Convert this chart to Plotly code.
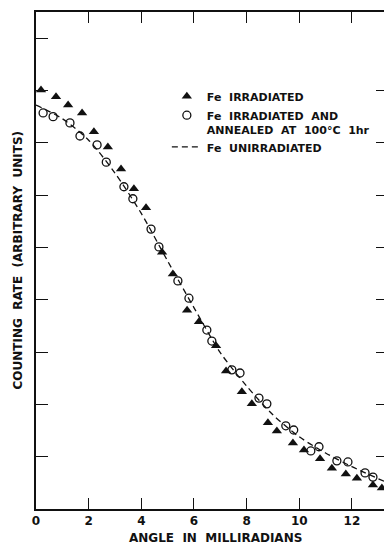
import plotly.graph_objects as go

# Fe irradiated (filled triangles)
irr_angle = [0.19, 0.76, 1.22, 1.75, 2.20, 2.73, 3.23, 3.72, 4.18, 4.79, 5.20, 5.74,
             6.19, 6.84, 7.22, 7.82, 8.20, 8.81, 9.15, 9.76, 10.18, 10.79, 11.24,
             11.77, 12.19, 12.80, 13.14]
irr_rate = [8.01, 7.88, 7.72, 7.57, 7.21, 6.92, 6.50, 6.12, 5.76, 4.91, 4.49, 3.80,
            3.58, 3.12, 2.64, 2.24, 2.01, 1.65, 1.49, 1.26, 1.13, 0.96, 0.78,
            0.67, 0.59, 0.46, 0.40]

# Fe irradiated and annealed at 100 C for 1 hr (open circles)
ann_angle = [0.27, 0.65, 1.29, 1.67, 2.32, 2.67, 3.34, 3.68, 4.37, 4.67, 5.39, 5.81,
             6.49, 6.68, 7.44, 7.75, 8.47, 8.77, 9.49, 9.79, 10.44, 10.75, 11.43,
             11.85, 12.50, 12.80]
ann_rate = [7.57, 7.50, 7.38, 7.13, 6.96, 6.63, 6.16, 5.93, 5.35, 5.01, 4.36, 4.03,
            3.42, 3.21, 2.66, 2.60, 2.12, 2.01, 1.59, 1.51, 1.11, 1.19, 0.92,
            0.90, 0.69, 0.61]

# Fe unirradiated (dashed reference curve)
unirr_angle = [0, 1, 2, 3, 4, 5, 6, 7, 8, 9, 10, 11, 12, 13.22]
unirr_rate = [7.72, 7.46, 7.05, 6.42, 5.65, 4.74, 3.85, 2.99, 2.35, 1.80, 1.38, 1.07, 0.81, 0.53]

x_ticks = [0, 2, 4, 6, 8, 10, 12]
y_ticks_left = [1, 2, 3, 4, 5, 6, 7, 8, 9]
y_ticks_right = [1, 2, 3, 4, 5, 6, 7, 8]

FONT = "DejaVu Sans"
INK = "#111111"

fig = go.Figure()

fig.add_trace(go.Scatter(
    x=irr_angle, y=irr_rate, mode="markers", name="Fe  IRRADIATED",
    marker=dict(symbol="triangle-up", size=9, color=INK, line=dict(width=0)),
))
fig.add_trace(go.Scatter(
    x=ann_angle, y=ann_rate, mode="markers",
    name="Fe  IRRADIATED  AND<br>ANNEALED  AT  100°C  1hr",
    marker=dict(symbol="circle-open", size=8, color=INK, line=dict(width=1.3, color=INK)),
))
fig.add_trace(go.Scatter(
    x=unirr_angle, y=unirr_rate, mode="lines", name="Fe  UNIRRADIATED",
    line=dict(color=INK, width=1.3, dash="6px,4px", shape="spline", smoothing=0.8),
))
# carrier for the right-hand tick axis
fig.add_trace(go.Scatter(x=[None], y=[None], yaxis="y2", showlegend=False, hoverinfo="skip"))

fig.update_layout(
    width=384, height=545,
    margin=dict(l=36, r=0, t=12, b=36),
    paper_bgcolor="white", plot_bgcolor="white",
    font=dict(family=FONT, size=11, color=INK),
    showlegend=True,
    legend=dict(
        x=0.376, y=0.858, xanchor="left", yanchor="top",
        bgcolor="rgba(0,0,0,0)", borderwidth=0,
        font=dict(family=FONT, size=11, color=INK, weight="bold"),
        valign="top", itemwidth=30,
    ),
    xaxis=dict(
        range=[0, 13.22], tickvals=x_ticks, ticktext=[str(v) for v in x_ticks],
        ticks="inside", ticklen=11, tickwidth=1.3, tickcolor=INK,
        showline=True, linecolor=INK, linewidth=1.5, mirror="ticks",
        showgrid=False, zeroline=False,
        tickfont=dict(family=FONT, size=12, color=INK, weight="bold"),
    ),
    yaxis=dict(
        range=[0, 9.5], tickvals=y_ticks_left, showticklabels=False,
        ticks="inside", ticklen=12, tickwidth=1.3, tickcolor=INK,
        showline=True, linecolor=INK, linewidth=1.5, mirror=False,
        showgrid=False, zeroline=False,
    ),
    yaxis2=dict(
        range=[0, 9.5], overlaying="y", side="right", anchor="x",
        tickvals=y_ticks_right, showticklabels=False,
        ticks="inside", ticklen=8, tickwidth=1.3, tickcolor=INK,
        showline=False, showgrid=False, zeroline=False,
    ),
    annotations=[
        dict(text="ANGLE  IN  MILLIRADIANS", xref="paper", yref="paper",
             x=(215 - 36) / 348, y=-0.058, xanchor="center", yanchor="middle",
             showarrow=False, font=dict(family=FONT, size=12, color=INK, weight="bold")),
        dict(text="COUNTING  RATE  (ARBITRARY  UNITS)", xref="paper", yref="paper",
             x=(17 - 36) / 348, y=0.5, xanchor="center", yanchor="middle",
             textangle=-90, showarrow=False,
             font=dict(family=FONT, size=12, color=INK, weight="bold")),
    ],
)

fig.write_html("out.html")
